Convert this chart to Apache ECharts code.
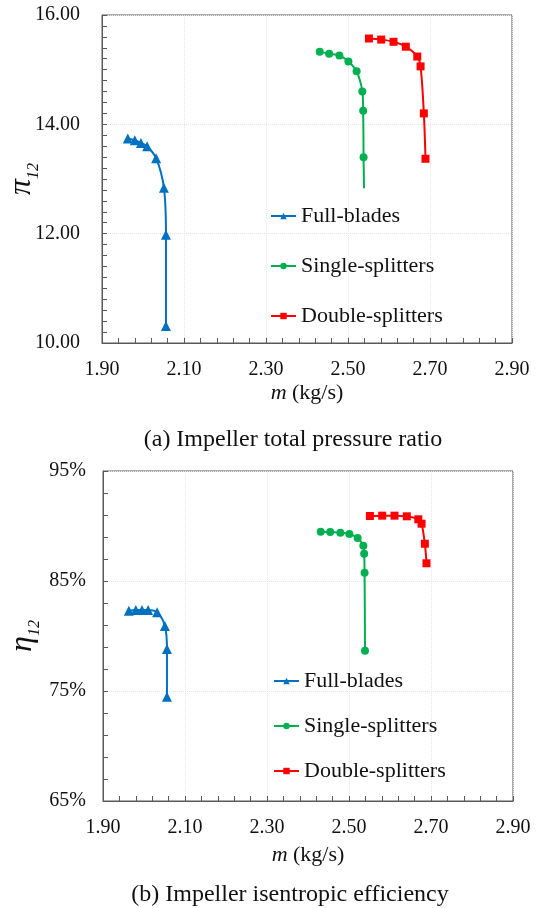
<!DOCTYPE html>
<html>
<head>
<meta charset="utf-8">
<title>Impeller performance</title>
<script src="https://cdn.jsdelivr.net/npm/echarts@6/dist/echarts.min.js"></script>
<style>
  html, body { margin: 0; padding: 0; background: #ffffff; }
  #chart { width: 539px; height: 908px; }
</style>
</head>
<body>
<div id="chart"></div>
<script>
// Mass flow rate (kg/s) for each impeller design
const massFull   = [1.963, 1.980, 1.995, 2.010, 2.032, 2.051, 2.056, 2.056];
const massSingle = [2.431, 2.454, 2.479, 2.501, 2.521, 2.535, 2.537, 2.538, 2.539];
const massDouble = [2.551, 2.581, 2.611, 2.641, 2.669, 2.677, 2.685, 2.689];

// Impeller total pressure ratio
const piFull   = [13.74, 13.71, 13.66, 13.60, 13.38, 12.84, 11.98, 10.31];
const piSingle = [15.33, 15.29, 15.26, 15.15, 14.97, 14.60, 14.25, 13.40, 12.83];
const piDouble = [15.57, 15.55, 15.51, 15.42, 15.24, 15.06, 14.20, 13.37];

// Impeller isentropic efficiency (%)
const etaFull   = [82.30, 82.36, 82.36, 82.36, 82.15, 80.91, 78.82, 74.48];
const etaSingle = [89.48, 89.45, 89.39, 89.27, 88.91, 88.21, 87.48, 85.75, 78.66];
const etaDouble = [90.91, 90.94, 90.94, 90.88, 90.61, 90.21, 88.39, 86.61];

const seriesNames = ['Full-blades', 'Single-splitters', 'Double-splitters'];
const xTicks = ['1.90', '2.10', '2.30', '2.50', '2.70', '2.90'];
const captions = ['(a) Impeller total pressure ratio', '(b) Impeller isentropic efficiency'];

const FONT = '"Liberation Serif", "Times New Roman", serif';
const INK = '#111111';
const colors = ['#0070C0', '#00B050', '#FF0000'];
const symbols = ['triangle', 'circle', 'rect'];
const symbolSizes = [10, 8, 8];

function pairs(xs, ys, hideLastMarker) {
  return xs.map((x, i) => {
    const item = { value: [x, ys[i]] };
    if (hideLastMarker && i === xs.length - 1) item.symbol = 'none';
    return item;
  });
}

function makeSeries(k, xs, ys, axis, hideLastMarker) {
  return {
    name: seriesNames[k],
    type: 'line',
    xAxisIndex: axis,
    yAxisIndex: axis,
    data: pairs(xs, ys, hideLastMarker),
    smooth: 0.3,
    symbol: symbols[k],
    symbolSize: symbolSizes[k],
    showAllSymbol: true,
    lineStyle: { color: colors[k], width: 2 },
    itemStyle: { color: colors[k] },
    emphasis: { disabled: true },
    animation: false
  };
}

function xAxisCfg(gridIndex, nameGap) {
  return {
    type: 'value',
    gridIndex: gridIndex,
    min: 1.9, max: 2.9, interval: 0.2,
    name: '{i|m} (kg/s)',
    nameLocation: 'middle',
    nameGap: nameGap,
    nameMoveOverlap: false,
    nameTextStyle: {
      fontFamily: FONT, fontSize: 22, color: INK,
      rich: { i: { fontFamily: FONT, fontSize: 22, fontStyle: 'italic', color: INK } }
    },
    axisLine: { show: true, lineStyle: { color: '#595959', width: 1 } },
    axisTick: { show: true, inside: true, length: 5, lineStyle: { color: '#595959' } },
    minorTick: { show: true, splitNumber: 5, length: 5, lineStyle: { color: '#595959' } },
    axisLabel: {
      fontFamily: FONT, fontSize: 20, color: INK, margin: 17,
      formatter: v => {
        const s = v.toFixed(2);
        return xTicks.indexOf(s) >= 0 ? s : '';
      }
    },
    splitLine: { show: true, lineStyle: { color: '#e6e6e6', type: 'dotted', width: 1 } }
  };
}

function yName(symbol) {
  return {
    name: '{p|' + symbol + '}{s|12}',
    nameLocation: 'middle', nameRotate: 90, nameGap: 64,
    nameMoveOverlap: false,
    nameTextStyle: {
      rich: {
        p: { fontFamily: FONT, fontSize: 32, fontStyle: 'italic', color: INK, verticalAlign: 'bottom' },
        s: { fontFamily: FONT, fontSize: 16, fontStyle: 'italic', color: INK, verticalAlign: 'bottom', padding: [0, 0, -4, 0] }
      }
    }
  };
}

const axisLineStyle = { show: true, lineStyle: { color: '#595959', width: 1 } };
const tickStyle = { show: true, inside: true, length: 5, lineStyle: { color: '#595959' } };
const gridLineStyle = { show: true, lineStyle: { color: '#e6e6e6', type: 'dotted', width: 1 } };

const option = {
  backgroundColor: '#ffffff',
  animation: false,
  title: [
    { text: captions[0], left: 288, top: 423, textAlign: 'center',
      textStyle: { fontFamily: FONT, fontSize: 24, fontWeight: 'normal', color: INK } },
    { text: captions[1], left: 285, top: 878, textAlign: 'center',
      textStyle: { fontFamily: FONT, fontSize: 24, fontWeight: 'normal', color: INK } }
  ],
  grid: [
    { left: 102, top: 15, width: 410, height: 328, show: true, outerBoundsMode: 'none', containLabel: false,
      borderColor: '#595959', borderWidth: 1, backgroundColor: 'transparent' },
    { left: 103, top: 471, width: 410, height: 330, show: true, outerBoundsMode: 'none', containLabel: false,
      borderColor: '#595959', borderWidth: 1, backgroundColor: 'transparent' }
  ],
  legend: [
    { orient: 'vertical', left: 270, top: 205, padding: 0, itemGap: 28, itemWidth: 25, itemHeight: 8,
      data: seriesNames, selectedMode: false,
      textStyle: { fontFamily: FONT, fontSize: 22, color: INK, lineHeight: 22 } },
    { orient: 'vertical', left: 273, top: 670, padding: 0, itemGap: 23, itemWidth: 25, itemHeight: 8,
      data: seriesNames, selectedMode: false,
      textStyle: { fontFamily: FONT, fontSize: 22, color: INK, lineHeight: 22 } }
  ],
  xAxis: [xAxisCfg(0, 39), xAxisCfg(1, 43)],
  yAxis: [
    Object.assign({
      type: 'value', gridIndex: 0,
      min: 10, max: 16, interval: 2,
      axisLine: axisLineStyle,
      axisTick: tickStyle,
      minorTick: { show: true, splitNumber: 10, length: 5, lineStyle: { color: '#595959' } },
      axisLabel: { fontFamily: FONT, fontSize: 20, color: INK, margin: 22,
        formatter: v => v.toFixed(2) },
      splitLine: gridLineStyle
    }, yName('π')),
    Object.assign({
      type: 'value', gridIndex: 1,
      min: 65, max: 95, interval: 10,
      axisLine: axisLineStyle,
      axisTick: tickStyle,
      minorTick: { show: true, splitNumber: 5, length: 5, lineStyle: { color: '#595959' } },
      axisLabel: { fontFamily: FONT, fontSize: 20, color: INK, margin: 17,
        formatter: v => Math.round(v) + '%' },
      splitLine: gridLineStyle
    }, yName('η'))
  ],
  series: [
    makeSeries(0, massFull, piFull, 0, false),
    // the lowest single-splitter pressure-ratio point carries no marker
    makeSeries(1, massSingle, piSingle, 0, true),
    makeSeries(2, massDouble, piDouble, 0, false),
    makeSeries(0, massFull, etaFull, 1, false),
    makeSeries(1, massSingle, etaSingle, 1, false),
    makeSeries(2, massDouble, etaDouble, 1, false)
  ]
};

const chart = echarts.init(document.getElementById('chart'), null, { renderer: 'canvas' });
chart.setOption(option);
</script>
</body>
</html>
